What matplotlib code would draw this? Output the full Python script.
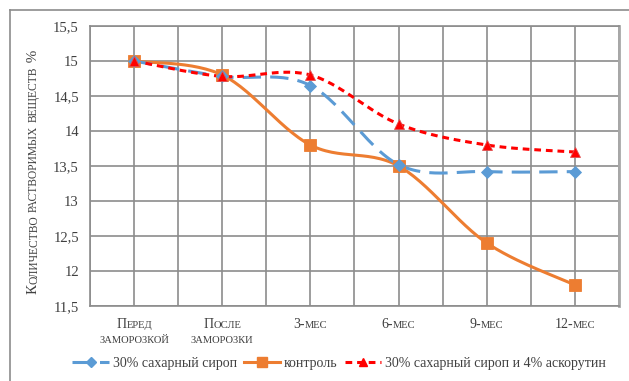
import numpy as np
import matplotlib
matplotlib.use("Agg")
import matplotlib.pyplot as plt
from matplotlib.lines import Line2D

# ---------------- data ----------------
categories = ["Перед заморозкой", "После заморозки", "3-мес", "6-мес", "9-мес", "12-мес"]
series_names = ["30% сахарный сироп", "контроль", "30% сахарный сироп и 4% аскорутин"]
syrup = [15.0, 14.78, 14.65, 13.52, 13.42, 13.42]
control = [15.0, 14.8, 13.8, 13.5, 12.4, 11.8]
syrup_ascorutin = [15.0, 14.78, 14.8, 14.1, 13.8, 13.7]
y_ticks = [11.5, 12, 12.5, 13, 13.5, 14, 14.5, 15, 15.5]
y_label = "Количество растворимых веществ %"

W, H = 629, 381
FONT = "Liberation Serif"
plt.rcParams["font.family"] = [FONT, "DejaVu Serif"]

fig = plt.figure(figsize=(W / 100, H / 100), dpi=100)
L, R, T, B = 90, 619, 26, 306
ax = fig.add_axes([L / W, 1 - B / H, (R - L) / W, (B - T) / H])

def smooth(xs, ys, n=30):
    """Excel-style smoothed curve (Bezier through points)."""
    xs = np.asarray(xs, float); ys = np.asarray(ys, float)
    P = np.column_stack([xs, ys])
    out = []
    for i in range(len(P) - 1):
        p0 = P[i - 1] if i > 0 else P[i]
        p1 = P[i]; p2 = P[i + 1]
        p3 = P[i + 2] if i + 2 < len(P) else P[i + 1]
        c1 = p1 + (p2 - p0) / 6.0
        c2 = p2 - (p3 - p1) / 6.0
        t = np.linspace(0, 1, n)[:, None]
        seg = ((1 - t) ** 3) * p1 + 3 * ((1 - t) ** 2) * t * c1 + 3 * (1 - t) * t ** 2 * c2 + t ** 3 * p2
        out.append(seg if i == 0 else seg[1:])
    s = np.vstack(out)
    return s[:, 0], s[:, 1]

x = np.arange(len(categories))
blue, orange, red = "#5B9BD5", "#ED7D31", "#FF0000"
blue_ls = (0, (6, 3))
red_ls = (0, (2.2, 1.6))

specs = [
    (control, orange, "-", "s", 8),
    (syrup, blue, blue_ls, "D", 6),
    (syrup_ascorutin, red, red_ls, "^", 6.5),
]
for vals, c, ls, mk, ms in specs:
    sx, sy = smooth(x, vals)
    ax.plot(sx, sy, color=c, lw=2.2, linestyle=ls, zorder=3, solid_capstyle="butt", dash_capstyle="butt")
    ax.plot(x, vals, linestyle="none", marker=mk, ms=ms, color=c, zorder=4,
            markeredgecolor=c if mk != "^" else "#E05050", markeredgewidth=0.6)

ax.set_xlim(-0.5, len(categories) - 0.5)
ax.set_ylim(11.5, 15.5)
ax.set_yticks(y_ticks)
ax.set_yticklabels([("%g" % v).replace(".", ",") for v in y_ticks], fontsize=10.5, family=FONT, color="#404040")
ax.set_xticks(x)
ax.set_xticks(np.arange(-0.5, len(categories), 1.0), minor=True)
ax.set_xticklabels([])
ax.tick_params(axis="both", which="both", length=0, pad=8)
gc = "#8C8C8C"
ax.grid(True, which="major", axis="both", color=gc, lw=1.2)
ax.grid(True, which="minor", axis="x", color=gc, lw=1.2)
for s in ax.spines.values():
    s.set_color(gc); s.set_linewidth(1.2)
ax.spines["right"].set_color("#A8A8A8"); ax.spines["right"].set_linewidth(2)
ax.set_axisbelow(True)

# ------------- small-caps text helper -------------
renderer = fig.canvas.get_renderer()

def runs_of(text, big, small):
    runs = []
    for ch in text:
        if ch.isalpha() and ch.islower():
            sz, c = small, ch.upper()
        else:
            sz, c = big, ch
        if runs and runs[-1][1] == sz:
            runs[-1][0] += c
        else:
            runs.append([c, sz])
    return runs

def width_of(s, sz):
    t1 = fig.text(0, 0, s + "|", fontsize=sz, family=FONT)
    t2 = fig.text(0, 0, "|", fontsize=sz, family=FONT)
    w = t1.get_window_extent(renderer).width - t2.get_window_extent(renderer).width
    t1.remove(); t2.remove()
    return w

def smallcaps(text, px, py, rotation=0, big=10.0, small=7.6, color="#404040"):
    """Draw small caps text centred at px (pixels), baseline at py (pixels from top)."""
    runs = runs_of(text, big, small)
    widths = [width_of(s, sz) for s, sz in runs]
    total = sum(widths)
    pos = -total / 2
    for (s, sz), w in zip(runs, widths):
        if rotation == 0:
            fx, fy = (px + pos) / W, 1 - py / H
        else:
            fx, fy = px / W, 1 - (py - pos) / H
        fig.text(fx, fy, s, fontsize=sz, family=FONT, color=color, ha="left", va="baseline",
                 rotation=rotation, rotation_mode="anchor")
        pos += w

for i, cat in enumerate(categories):
    cx = ax.transData.transform((i, 0))[0]
    words = cat.split(" ")
    for j, w in enumerate(words):
        smallcaps(w, cx, 328 + j * 15)

smallcaps(y_label, 37, 172, rotation=90, big=10.8, small=8.3)

# ------------- border -------------
fig.add_artist(Line2D([10 / W, 1], [1 - 10 / H] * 2, color="#8C8C8C", lw=1.2))
fig.add_artist(Line2D([10 / W] * 2, [0, 1 - 10 / H], color="#8C8C8C", lw=1.2))

# ------------- legend -------------
handles = [
    Line2D([], [], color=blue, lw=2.2, linestyle=blue_ls, marker="D", ms=5.5),
    Line2D([], [], color=orange, lw=2.2, marker="s", ms=7),
    Line2D([], [], color=red, lw=2.2, linestyle=red_ls, marker="^", ms=5.5),
]
fig.legend(handles, series_names, loc="center", bbox_to_anchor=(339 / W, 1 - 363 / H), ncol=3,
           frameon=False, prop={"family": FONT, "size": 10}, handlelength=2.65,
           handletextpad=0.25, columnspacing=0.5, labelcolor="#404040",
           borderpad=0.2, borderaxespad=0)

fig.savefig("out.png", dpi=100)
